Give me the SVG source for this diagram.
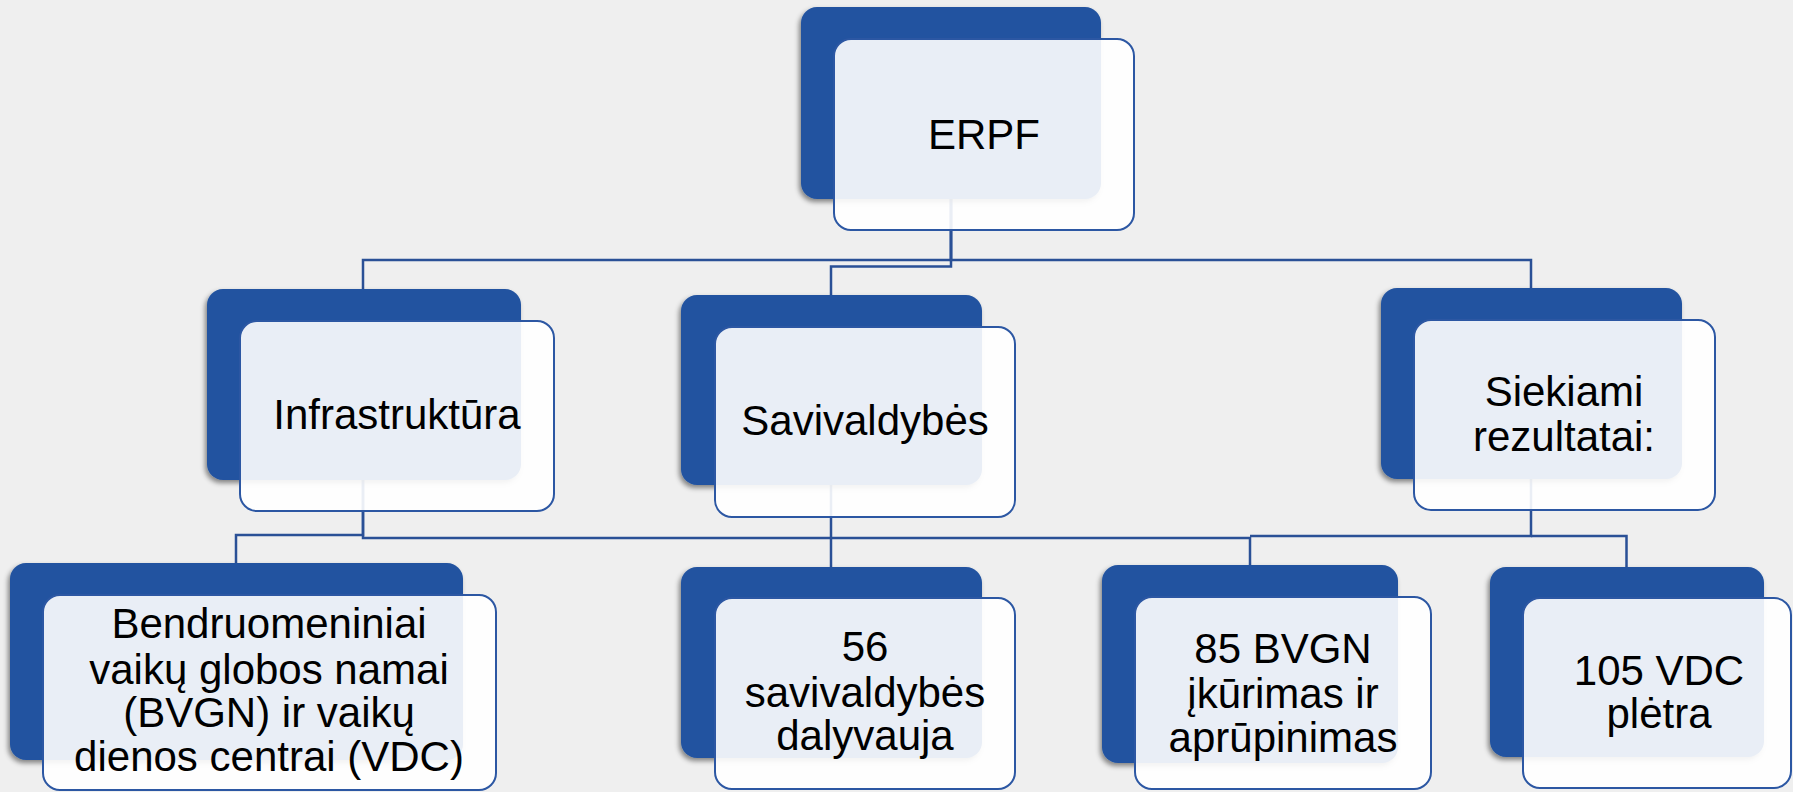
<svg xmlns="http://www.w3.org/2000/svg" width="1793" height="792" viewBox="0 0 1793 792">
<defs>
<filter id="sh" x="-10%" y="-10%" width="120%" height="125%">
<feDropShadow dx="-2" dy="3" stdDeviation="2.5" flood-color="#000" flood-opacity="0.45"/>
</filter>
<style>
.bk{fill:#2253A0;filter:url(#sh)}
.fr{fill:#fff;fill-opacity:0.9;stroke:#2C57A3;stroke-width:2}
.ln{fill:none;stroke:#2A5096;stroke-width:2.5}
.t{font-family:"Liberation Sans",Arial,sans-serif;font-size:42px;fill:#000;text-anchor:middle}
</style>
</defs>
<rect width="1793" height="792" fill="#EFEFEF"/>
<g id="connectors">
<path class="ln" d="M951,199 V260 H363 V289"/>
<path class="ln" d="M951,199 V266.5 H831 V295"/>
<path class="ln" d="M951,199 V260 H1531 V288"/>
<path class="ln" d="M363,480 V535 H236 V563"/>
<path class="ln" d="M363,480 V538 H1250 V565"/>
<path class="ln" d="M831,485 V567"/>
<path class="ln" d="M1531,479 V536 H1250"/>
<path class="ln" d="M1531,536 H1626.5 V567"/>
</g>
<g id="n-erpf">
<rect class="bk" x="801" y="7" width="300" height="192" rx="16"/>
<rect class="fr" x="834" y="39" width="300" height="191" rx="17"/>
<text class="t" x="984" y="149" font-size="45">ERPF</text>
</g>
<g id="n-infra">
<rect class="bk" x="207" y="289" width="314" height="191" rx="16"/>
<rect class="fr" x="240" y="321" width="314" height="190" rx="17"/>
<text class="t" x="397" y="429">Infrastruktūra</text>
</g>
<g id="n-sav">
<rect class="bk" x="681" y="295" width="301" height="190" rx="16"/>
<rect class="fr" x="715" y="327" width="300" height="190" rx="17"/>
<text class="t" x="865" y="435">Savivaldybės</text>
</g>
<g id="n-siek">
<rect class="bk" x="1381" y="288" width="301" height="191" rx="16"/>
<rect class="fr" x="1414" y="320" width="301" height="190" rx="17"/>
<text class="t" x="1564" y="406">Siekiami</text>
<text class="t" x="1564" y="451">rezultatai:</text>
</g>
<g id="n-bvgn">
<rect class="bk" x="10" y="563" width="453" height="197" rx="16"/>
<rect class="fr" x="43" y="595" width="453" height="195" rx="17"/>
<text class="t" x="269" y="638">Bendruomeniniai</text>
<text class="t" x="269" y="684">vaikų globos namai</text>
<text class="t" x="269" y="727">(BVGN) ir vaikų</text>
<text class="t" x="269" y="771">dienos centrai (VDC)</text>
</g>
<g id="n-56">
<rect class="bk" x="681" y="567" width="301" height="191" rx="16"/>
<rect class="fr" x="715" y="598" width="300" height="191" rx="17"/>
<text class="t" x="865" y="661">56</text>
<text class="t" x="865" y="707">savivaldybės</text>
<text class="t" x="865" y="750">dalyvauja</text>
</g>
<g id="n-85">
<rect class="bk" x="1102" y="565" width="296" height="198" rx="16"/>
<rect class="fr" x="1135" y="597" width="296" height="192" rx="17"/>
<text class="t" x="1283" y="663">85 BVGN</text>
<text class="t" x="1283" y="708">įkūrimas ir</text>
<text class="t" x="1283" y="752">aprūpinimas</text>
</g>
<g id="n-105">
<rect class="bk" x="1490" y="567" width="274" height="190" rx="16"/>
<rect class="fr" x="1523" y="598" width="268" height="190" rx="17"/>
<text class="t" x="1659" y="685">105 VDC</text>
<text class="t" x="1659" y="728">plėtra</text>
</g>
</svg>
